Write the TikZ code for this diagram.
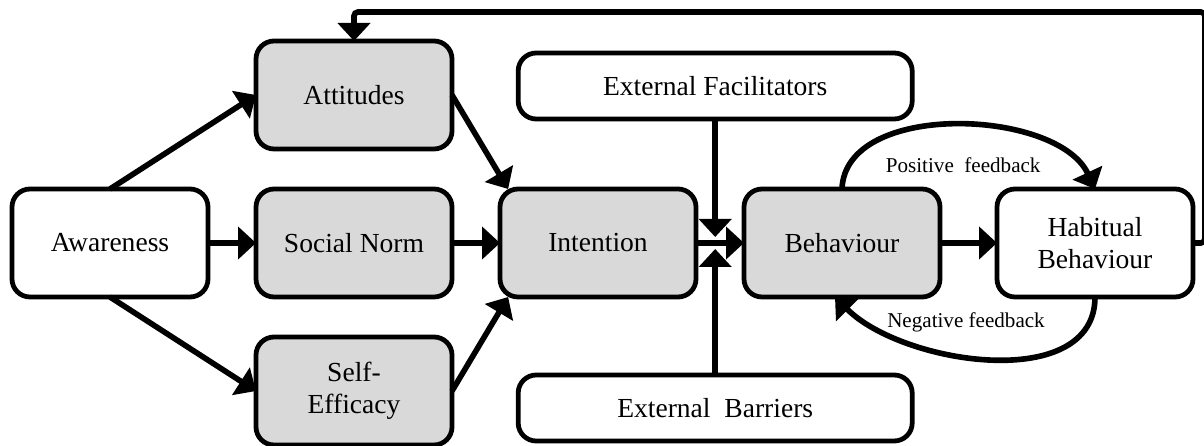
\documentclass[tikz,border=0pt]{standalone}
\usepackage{fontspec}
\setmainfont{Liberation Serif}
\usetikzlibrary{positioning,arrows.meta,calc}
\definecolor{boxGray}{RGB}{217,217,217}

\begin{document}
\begin{tikzpicture}[
      node distance=1cm and 1.2cm,
      box/.style={draw=black,fill=white,line width=3.4pt,outer sep=0pt,rounded corners=4.5mm,minimum width=4.9cm,minimum height=2.7cm,align=center,font=\fontsize{19.6}{22.5}\selectfont},
      grey/.style={box,fill=boxGray},
      wide/.style={box,minimum width=9.85cm,minimum height=1.65cm},
      arr/.style={-{Triangle[length=4.5mm,width=8mm]},line width=4pt},
      lbl/.style={font=\fontsize{15}{18}\selectfont}]
    \useasboundingbox (0,0) rectangle (30.1,-11.15);
    \node[box] (aware) at (2.75,-6.075) {Awareness};
    \node[grey,right=of aware] (soc) {Social Norm};
    \node[grey,above=of soc] (att) {Attitudes};
    \node[grey,below=of soc] (self) {Self-\\Efficacy};
    \node[grey,right=of soc] (intent) {Intention};
    \node[grey,right=of intent] (behav) {Behaviour};
    \node[box,right=1.425cm of behav] (habit) {Habitual\\Behaviour};
    \coordinate (jn) at ($(intent.east)!0.4!(behav.west)$);
    \node[wide,above=3.1cm of jn] (fac) {External Facilitators};
    \node[wide,below=3.3cm of jn] (bar) {External\ \ Barriers};
    \coordinate (loop) at (30.12,-0.3);
    \node[lbl] (pos) at (24.08,-4.12) {Positive\ \ feedback};
    \node[lbl] (neg) at (24.15,-8.05) {Negative feedback};
    \draw[arr] (aware.north) -- (att.west);
    \draw[arr] (aware) -- (soc);
    \draw[arr] (aware.south) -- (self.west);
    \draw[arr] (att.east) -- (intent.149);
    \draw[arr] (soc) -- (intent);
    \draw[arr] (self.east) -- (intent.211);
    \draw[arr] (intent) -- (behav);
    \draw[arr] (fac) -- ([yshift=1.5mm]jn);
    \draw[arr] (bar) -- ([yshift=-1.5mm]jn);
    \draw[arr] (behav) -- (habit);
    \draw[arr] (behav.north) to[out=88,in=115,looseness=0.9] (habit.north);
    \draw[arr] (habit.south) to[out=-90,in=-45,looseness=0.95] ([xshift=-1.75mm]behav.south);
    \draw[arr,rounded corners=1mm] (habit.east) -| (loop) -| (att.north);
  \end{tikzpicture}
\end{document}
